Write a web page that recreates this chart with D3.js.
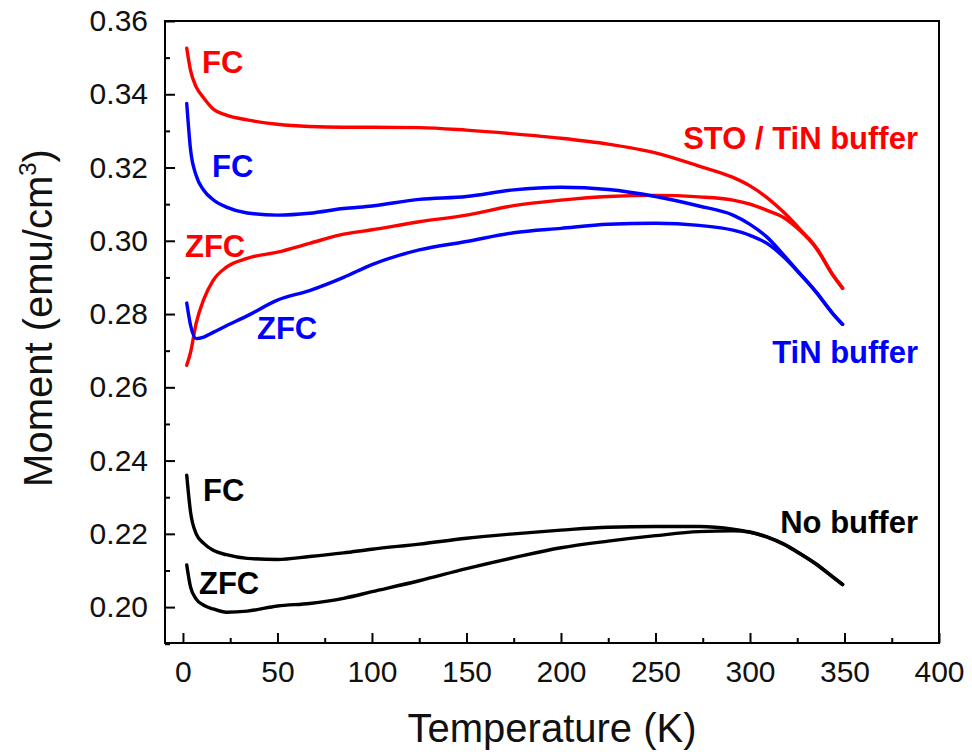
<!DOCTYPE html>
<html>
<head>
<meta charset="utf-8">
<script src="https://cdn.jsdelivr.net/npm/d3@7"></script>
<style>
    body { margin: 0; background: #fff; }
    text { font-family: "Liberation Sans", Arial, sans-serif; }
</style>
</head>
<body>
<div id="chart"></div>
<script>
var temps = [2, 4, 7, 11, 16, 23, 34, 50, 67, 85, 100, 125, 150, 175, 200, 225, 250, 273, 291, 300, 309, 318, 326, 335, 344, 349];

// STO / TiN buffer (red)
var stoFC  = [0.3526, 0.3465, 0.3420, 0.3390, 0.3360, 0.3343, 0.3330, 0.3318, 0.3312, 0.3310, 0.3310, 0.3309, 0.3302, 0.3292, 0.3280, 0.3264, 0.3240, 0.3204, 0.3173, 0.3150, 0.3118, 0.3077, 0.3034, 0.2982, 0.2906, 0.2871];
var stoZFC = [0.2660, 0.2695, 0.2775, 0.2840, 0.2892, 0.2928, 0.2952, 0.2969, 0.2993, 0.3018, 0.3030, 0.3052, 0.3070, 0.3096, 0.3111, 0.3121, 0.3124, 0.3120, 0.3111, 0.3100, 0.3083, 0.3063, 0.3030, 0.2980, 0.2905, 0.2870];

// TiN buffer (blue)
var tinFC  = [0.3375, 0.3250, 0.3178, 0.3138, 0.3112, 0.3092, 0.3076, 0.3070, 0.3075, 0.3088, 0.3095, 0.3113, 0.3121, 0.3139, 0.3146, 0.3140, 0.3121, 0.3095, 0.3070, 0.3045, 0.3010, 0.2960, 0.2913, 0.2860, 0.2800, 0.2772];
var tinZFC = [0.2830, 0.2770, 0.2733, 0.2737, 0.2750, 0.2768, 0.2795, 0.2838, 0.2864, 0.2900, 0.2935, 0.2975, 0.2998, 0.3022, 0.3034, 0.3045, 0.3048, 0.3042, 0.3029, 0.3015, 0.2993, 0.2955, 0.2912, 0.2860, 0.2800, 0.2772];

// No buffer (black)
var noFC  = [0.2360, 0.2260, 0.2200, 0.2174, 0.2155, 0.2143, 0.2133, 0.2130, 0.2138, 0.2148, 0.2158, 0.2172, 0.2188, 0.2200, 0.2210, 0.2218, 0.2220, 0.2220, 0.2213, 0.2205, 0.2192, 0.2172, 0.2148, 0.2118, 0.2082, 0.2062];
var noZFC = [0.2115, 0.2055, 0.2022, 0.2005, 0.1995, 0.1986, 0.1989, 0.2003, 0.2010, 0.2024, 0.2042, 0.2072, 0.2105, 0.2135, 0.2162, 0.2180, 0.2195, 0.2206, 0.2208, 0.2204, 0.2191, 0.2171, 0.2147, 0.2117, 0.2081, 0.2061];

// Tick values
var xTicks = [0, 50, 100, 150, 200, 250, 300, 350, 400];
var xMinor = [25, 75, 125, 175, 225, 275, 325, 375];
var yTicks = [0.20, 0.22, 0.24, 0.26, 0.28, 0.30, 0.32, 0.34, 0.36];
var yMinor = [0.19, 0.21, 0.23, 0.25, 0.27, 0.29, 0.31, 0.33, 0.35];

// Curves and their labels
var series = [
    { "values": stoFC,  "color": "#ff0000" },
    { "values": stoZFC, "color": "#ff0000" },
    { "values": tinFC,  "color": "#0000ff" },
    { "values": tinZFC, "color": "#0000ff" },
    { "values": noFC,   "color": "#000000" },
    { "values": noZFC,  "color": "#000000" }
];
var labels = [
    { "x": 202, "y": 73,  "text": "FC",  "color": "#ff0000", "anchor": "start" },
    { "x": 212, "y": 177, "text": "FC",  "color": "#0000ff", "anchor": "start" },
    { "x": 185, "y": 257, "text": "ZFC", "color": "#ff0000", "anchor": "start" },
    { "x": 257, "y": 339, "text": "ZFC", "color": "#0000ff", "anchor": "start" },
    { "x": 203, "y": 501, "text": "FC",  "color": "#000000", "anchor": "start" },
    { "x": 199, "y": 594, "text": "ZFC", "color": "#000000", "anchor": "start" },
    { "x": 918, "y": 149, "text": "STO / TiN buffer", "color": "#ff0000", "anchor": "end" },
    { "x": 918, "y": 363, "text": "TiN buffer", "color": "#0000ff", "anchor": "end" },
    { "x": 918, "y": 533, "text": "No buffer",  "color": "#000000", "anchor": "end" }
];

var width = 972;
var height = 756;
// plot frame edges (pixels)
var frameLeft = 165, frameRight = 939, frameTop = 21, frameBottom = 643;

var svg = d3.select("#chart")
    .append("svg")
    .attr("width", width)
    .attr("height", height);

var x = d3.scaleLinear().domain([-9.5, 400]).range([frameLeft, frameRight]);
var y = d3.scaleLinear().domain([0.1902, 0.3600]).range([frameBottom, frameTop]);

// the curves
var line = d3.line()
    .x(function (d, i) { return x(temps[i]); })
    .y(function (d) { return y(d); })
    .curve(d3.curveMonotoneX);

svg.selectAll("path.curve")
    .data(series)
    .enter()
    .append("path")
    .attr("class", "curve")
    .attr("d", function (d) { return line(d.values); })
    .attr("fill", "none")
    .attr("stroke", function (d) { return d.color; })
    .attr("stroke-width", 3.4)
    .attr("stroke-linejoin", "round")
    .attr("stroke-linecap", "round");

// x axis, ticks pointing inward
svg.append("g")
    .attr("transform", "translate(0," + frameBottom + ")")
    .call(d3.axisBottom(x).tickValues(xTicks).tickSize(-10).tickPadding(18));
svg.append("g")
    .attr("transform", "translate(0," + frameBottom + ")")
    .call(d3.axisBottom(x).tickValues(xMinor).tickSize(-5).tickFormat(""));

// y axis
svg.append("g")
    .attr("transform", "translate(" + frameLeft + ",0)")
    .call(d3.axisLeft(y).tickValues(yTicks).tickSize(-10).tickPadding(17).tickFormat(d3.format(".2f")));
svg.append("g")
    .attr("transform", "translate(" + frameLeft + ",0)")
    .call(d3.axisLeft(y).tickValues(yMinor).tickSize(-5).tickFormat(""));

svg.selectAll(".domain").remove();
svg.selectAll(".tick line").attr("stroke", "#000").attr("stroke-width", 2);
svg.selectAll(".tick text")
    .attr("font-size", "30px")
    .attr("font-family", "'Liberation Sans', Arial, sans-serif")
    .attr("fill", "#111");

// frame
svg.append("rect")
    .attr("x", frameLeft)
    .attr("y", frameTop)
    .attr("width", frameRight - frameLeft)
    .attr("height", frameBottom - frameTop)
    .attr("fill", "none")
    .attr("stroke", "#000")
    .attr("stroke-width", 2);

// curve labels
svg.selectAll("text.label")
    .data(labels)
    .enter()
    .append("text")
    .attr("class", "label")
    .attr("x", function (d) { return d.x; })
    .attr("y", function (d) { return d.y; })
    .attr("text-anchor", function (d) { return d.anchor; })
    .attr("font-size", "31px")
    .attr("font-weight", "bold")
    .attr("fill", function (d) { return d.color; })
    .text(function (d) { return d.text; });

// axis titles
svg.append("text")
    .attr("x", (frameLeft + frameRight) / 2)
    .attr("y", 742)
    .attr("text-anchor", "middle")
    .attr("font-size", "40px")
    .attr("fill", "#111")
    .text("Temperature (K)");

var yTitle = svg.append("text")
    .attr("transform", "translate(52,318) rotate(-90)")
    .attr("text-anchor", "middle")
    .attr("font-size", "40px")
    .attr("fill", "#111");
yTitle.append("tspan").text("Moment (emu/cm");
yTitle.append("tspan").attr("font-size", "24px").attr("dy", "-16").text("3");
yTitle.append("tspan").attr("dy", "16").text(")");
</script>
</body>
</html>
